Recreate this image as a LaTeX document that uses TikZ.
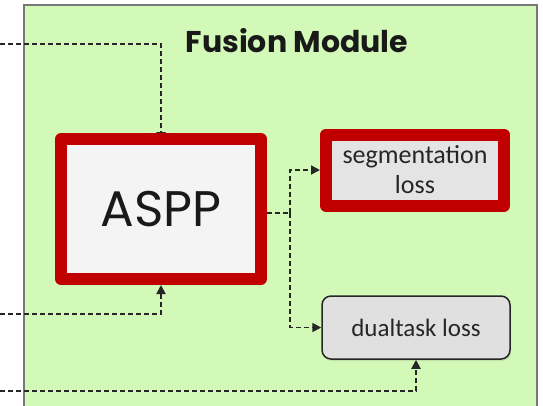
\documentclass[tikz,border=0pt]{standalone}
\usepackage{fontspec}
\setmainfont{Carlito}
\newfontfamily\gothic{Poppins}
\usetikzlibrary{arrows.meta,shadows}
\pgfdeclarelayer{bg}
\pgfdeclarelayer{mid}
\pgfsetlayers{bg,mid,main}
\definecolor{modgreen}{RGB}{210,249,183}
\definecolor{modborder}{RGB}{120,120,120}
\definecolor{boxred}{RGB}{192,0,0}
\definecolor{asppfill}{RGB}{244,244,244}
\definecolor{lossfill}{RGB}{228,228,228}
\definecolor{dualfill}{RGB}{224,224,224}
\tikzset{
  x=1pt,y=1pt,
  redbox/.style={draw=boxred, line width=12pt, line join=round, inner sep=0pt,
    drop shadow={opacity=0.2, shadow xshift=1pt, shadow yshift=-2pt}},
  greybox/.style={draw=black!85, line width=1.5pt, rounded corners=9pt, fill=dualfill, inner sep=0pt,
    drop shadow={opacity=0.2, shadow xshift=1pt, shadow yshift=-2pt}},
  conn/.style={draw=black!85, line width=1.8pt, dash pattern=on 5pt off 3pt,
    -{Triangle[length=9pt,width=9pt]}},
  connplain/.style={draw=black!85, line width=1.8pt, dash pattern=on 5pt off 3pt},
}
\begin{document}
\begin{tikzpicture}
\useasboundingbox (0,0) rectangle (543,-405);
\begin{pgfonlayer}{bg}
\path[fill=modgreen, draw=modborder, line width=2pt] (24,-5) rectangle (537,-420);
\end{pgfonlayer}
\clip (0,0) rectangle (543,-405);

\node[font=\gothic\fontsize{30}{34}\selectfont\bfseries, text=black!90] (title) at (297,-41) {Fusion Module};

\node[redbox, fill=asppfill, minimum width=200pt, minimum height=140pt,
  font=\gothic\fontsize{50}{54}\selectfont, text=black!90] (aspp) at (161,-209) {ASPP};

\node[redbox, fill=lossfill, minimum width=178pt, minimum height=71pt, align=center,
  font=\fontsize{26}{30}\selectfont, text=black!85] (seg) at (415,-170) {segmentation\\loss};

\node[greybox, minimum width=188pt, minimum height=63pt,
  font=\fontsize{25}{28}\selectfont, text=black!85] (dual) at (416,-327.5) {dualtask loss};

\coordinate (in1) at (0,-44);
\coordinate (in2) at (0,-314);
\coordinate (in3) at (0,-391);
\coordinate (split) at (290,-213);

\begin{pgfonlayer}{mid}
\draw[conn] (in1) -| ([yshift=-8pt]aspp.north);
\draw[conn] (in2) -| (aspp.south);
\draw[connplain] (aspp.east |- split) -- (split);
\draw[conn] (split) |- (seg.west);
\draw[conn] (split) |- (dual.west);
\draw[conn] (in3) -| (dual.south);
\end{pgfonlayer}
\end{tikzpicture}
\end{document}
